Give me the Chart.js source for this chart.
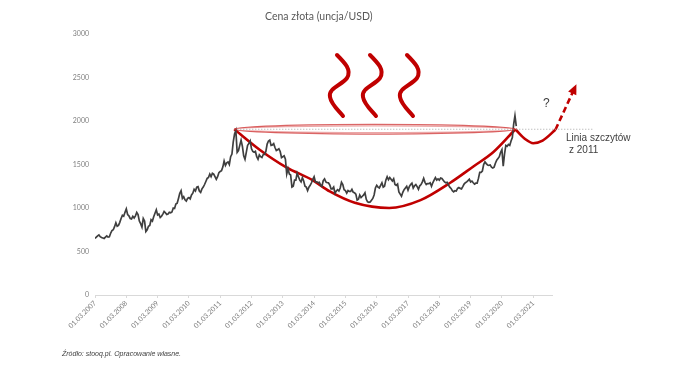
<!DOCTYPE html>
<html>
<head>
<meta charset="utf-8">
<script src="https://cdn.jsdelivr.net/npm/chart.js@4.4.1/dist/chart.umd.min.js"></script>
<style>
  html, body { margin: 0; padding: 0; background: #fff; }
  #wrap { position: relative; width: 699px; height: 376px; overflow: hidden; }
  #chart { position: absolute; left: 0; top: 0; }
  .txt { position: absolute; white-space: nowrap; }
  #title { left: 265px; top: 10px; font: 10.5px Lato, "Open Sans", sans-serif; color: #595959; }
  #question { left: 543px; top: 96px; font: 12px "Liberation Sans", Arial, sans-serif; color: #404040; }
  #note1 { left: 566px; top: 132px; font: 10px "Liberation Sans", Arial, sans-serif; color: #404040; }
  #note2 { left: 569px; top: 144px; font: 10px "Liberation Sans", Arial, sans-serif; color: #404040; }
  #source { left: 62px; top: 350px; font: italic 7px "Liberation Sans Narrow", "Liberation Sans", Arial, sans-serif; color: #404040; }
</style>
</head>
<body>
<div id="wrap">
  <canvas id="chart" width="699" height="376"></canvas>
  <div class="txt" id="title">Cena złota (uncja/USD)</div>
  <div class="txt" id="question">?</div>
  <div class="txt" id="note1">Linia szczytów</div>
  <div class="txt" id="note2">z 2011</div>
  <div class="txt" id="source">Źródło: stooq.pl. Opracowanie własne.</div>
</div>
<script>
// ceny złota, dwa odczyty na miesiąc od 01.03.2007
const firstYear = 2007;
const pointsPerYear = 24;
const goldPrices = [
  650, 665, 680, 690, 670, 660, 655, 650, 665, 680, 665, 670, 710, 740, 750, 785, 830, 790, 800, 835,
  880, 915, 905, 950, 990, 925, 910, 880, 875, 905, 885, 910, 950, 925, 850, 820, 780, 880, 850, 730, 750, 790, 800, 865,
  850, 900, 940, 980, 920, 930, 890, 905, 930, 960, 945, 925, 930, 950, 945, 955, 1000, 995, 1045, 1055, 1110, 1170, 1200, 1110,
  1130, 1095, 1080, 1110, 1120, 1105, 1150, 1170, 1215, 1195, 1240, 1245, 1195, 1180, 1220, 1240, 1270, 1305, 1340, 1350, 1390, 1360, 1400, 1390,
  1360, 1330, 1360, 1405, 1420, 1430, 1470, 1540, 1490, 1520, 1530, 1500, 1590, 1620, 1760, 1850, 1890, 1640, 1660, 1720, 1780, 1710, 1600, 1560,
  1640, 1720, 1740, 1770, 1680, 1650, 1640, 1650, 1590, 1560, 1610, 1590, 1580, 1615, 1615, 1650, 1735, 1770, 1780, 1720, 1725, 1740, 1695, 1660,
  1670, 1680, 1650, 1580, 1590, 1600, 1560, 1390, 1450, 1390, 1380, 1240, 1250, 1320, 1320, 1400, 1360, 1320, 1300, 1350, 1310, 1250, 1240, 1200,
  1240, 1260, 1290, 1330, 1360, 1300, 1300, 1290, 1295, 1260, 1250, 1315, 1335, 1300, 1290, 1290, 1265, 1220, 1220, 1240, 1170, 1195, 1210, 1195,
  1230, 1295, 1270, 1210, 1200, 1170, 1200, 1190, 1190, 1215, 1180, 1175, 1160, 1090, 1100, 1150, 1120, 1135, 1150, 1175, 1100, 1070, 1065, 1070,
  1090, 1110, 1150, 1230, 1260, 1240, 1230, 1260, 1290, 1240, 1250, 1320, 1360, 1325, 1350, 1330, 1310, 1335, 1270, 1260, 1275, 1185, 1160, 1135,
  1180, 1210, 1230, 1250, 1205, 1245, 1270, 1285, 1230, 1255, 1270, 1245, 1215, 1255, 1270, 1300, 1340, 1295, 1270, 1280, 1280, 1290, 1250, 1290,
  1320, 1350, 1320, 1335, 1320, 1345, 1340, 1320, 1300, 1290, 1295, 1265, 1240, 1225, 1200, 1185, 1200, 1195, 1225, 1235, 1225, 1220, 1245, 1275,
  1290, 1300, 1315, 1330, 1300, 1310, 1290, 1275, 1285, 1285, 1340, 1410, 1410, 1425, 1500, 1530, 1510, 1495, 1490, 1495, 1470, 1460, 1470, 1515,
  1550, 1570, 1590, 1640, 1670, 1480, 1620, 1720, 1710, 1730, 1720, 1770, 1810, 1960, 2060, 1940
];

// linie odręczne: "filiżanka", "ucho", strzałka, poziom szczytów 2011
const peakLevel = 1905;
const cupYears  = [2011.45, 2012.26, 2013.1, 2013.95, 2014.5, 2015.3, 2016.4, 2017.4, 2018.35, 2019.1, 2019.72, 2020.43];
const cupValues = [1905, 1670, 1470, 1320, 1190, 1060, 1000, 1090, 1290, 1480, 1640, 1905];
const handleYears  = [2020.43, 2020.75, 2021.0, 2021.3, 2021.71];
const handleValues = [1905, 1790, 1745, 1775, 1900];
const arrowYears  = [2021.71, 2022.3];
const arrowValues = [1900, 2360];
const peakLineYears = [2011.45, 2022.93];

const tickYears = [2007, 2008, 2009, 2010, 2011, 2012, 2013, 2014, 2015, 2016, 2017, 2018, 2019, 2020, 2021];

const goldData = goldPrices.map((v, i) => ({ x: firstYear + i / pointsPerYear, y: v }));
const pairs = (xs, ys) => xs.map((x, i) => ({ x: x, y: ys[i] }));

const RED = '#c00000';

// elipsa wokół linii szczytów, grot strzałki i trzy "fale" nad wykresem
const decorations = {
  id: 'decorations',
  afterDatasetsDraw(chart) {
    const ctx = chart.ctx;
    const xs = chart.scales.x, ys = chart.scales.y;
    const x1 = xs.getPixelForValue(cupYears[0]);
    const x2 = xs.getPixelForValue(cupYears[cupYears.length - 1]);
    const y = ys.getPixelForValue(peakLevel);
    ctx.save();
    ctx.lineWidth = 1.2;
    [[4.8, 'rgba(200,20,20,0.65)'], [3.4, 'rgba(210,60,60,0.45)']].forEach(function(e) {
      ctx.strokeStyle = e[1];
      ctx.beginPath();
      ctx.ellipse((x1 + x2) / 2, y, (x2 - x1) / 2, e[0], 0, 0, Math.PI * 2);
      ctx.stroke();
    });

    // grot strzałki na końcu przerywanej linii
    const ax = xs.getPixelForValue(arrowYears[1]), ay = ys.getPixelForValue(arrowValues[1]);
    const bx = xs.getPixelForValue(arrowYears[0]), by = ys.getPixelForValue(arrowValues[0]);
    const ang = Math.atan2(ay - by, ax - bx);
    ctx.fillStyle = RED;
    ctx.translate(ax, ay);
    ctx.rotate(ang);
    ctx.beginPath();
    ctx.moveTo(6, 0);
    ctx.lineTo(-4, -4.5);
    ctx.lineTo(-4, 4.5);
    ctx.closePath();
    ctx.fill();
    ctx.setTransform(1, 0, 0, 1, 0, 0);

    ctx.strokeStyle = RED;
    ctx.lineWidth = 4;
    ctx.lineCap = 'round';
    [337, 370, 407].forEach(function(sx) {
      const sy = 55;
      ctx.beginPath();
      ctx.moveTo(sx, sy);
      ctx.bezierCurveTo(sx + 8, sy + 8, sx + 15, sy + 15, sx + 10, sy + 23);
      ctx.bezierCurveTo(sx + 5, sy + 30, sx - 9, sy + 33, sx - 7, sy + 42);
      ctx.bezierCurveTo(sx - 6, sy + 49, sx + 1, sy + 55, sx + 6, sy + 61);
      ctx.stroke();
    });
    ctx.restore();
  }
};

new Chart(document.getElementById('chart'), {
  type: 'line',
  data: {
    datasets: [
      {
        data: pairs(peakLineYears, [peakLevel, peakLevel]),
        borderColor: '#a6a6a6',
        borderWidth: 1,
        borderDash: [1, 2],
        pointRadius: 0,
        clip: false
      },
      {
        data: goldData,
        borderColor: '#3f3f3f',
        borderWidth: 1.7,
        pointRadius: 0,
        tension: 0
      },
      {
        data: pairs(cupYears, cupValues),
        borderColor: RED,
        borderWidth: 2.6,
        pointRadius: 0,
        cubicInterpolationMode: 'monotone',
        clip: false
      },
      {
        data: pairs(handleYears, handleValues),
        borderColor: RED,
        borderWidth: 2.6,
        pointRadius: 0,
        cubicInterpolationMode: 'monotone',
        clip: false
      },
      {
        data: pairs(arrowYears, arrowValues),
        borderColor: RED,
        borderWidth: 2.6,
        borderDash: [6, 3.5],
        pointRadius: 0,
        clip: false
      }
    ]
  },
  options: {
    responsive: false,
    animation: false,
    events: [],
    layout: { padding: { left: 0, right: 147, top: 34, bottom: 0 } },
    plugins: {
      legend: { display: false },
      tooltip: { enabled: false },
      title: { display: false }
    },
    scales: {
      x: {
        type: 'linear',
        min: 2007,
        max: 2021.6,
        afterFit: s => { s.height = 81; },
        afterBuildTicks: s => { s.ticks = tickYears.map(v => ({ value: v })); },
        border: { color: '#d9d9d9', width: 1 },
        grid: { drawOnChartArea: false, drawTicks: true, tickLength: 3, color: '#d9d9d9' },
        ticks: {
          autoSkip: false,
          minRotation: 45,
          maxRotation: 45,
          padding: 1,
          color: '#808080',
          font: { family: 'Lato, "Open Sans", sans-serif', size: 7 },
          callback: v => '01.03.' + v
        }
      },
      y: {
        min: 0,
        max: 3000,
        afterFit: s => { s.width = 95; },
        border: { display: false },
        grid: { display: false, drawTicks: false },
        ticks: {
          stepSize: 500,
          padding: 6,
          color: '#808080',
          font: { family: 'Lato, "Open Sans", sans-serif', size: 7 },
          callback: v => String(v)
        }
      }
    }
  },
  plugins: [decorations]
});
</script>
</body>
</html>
